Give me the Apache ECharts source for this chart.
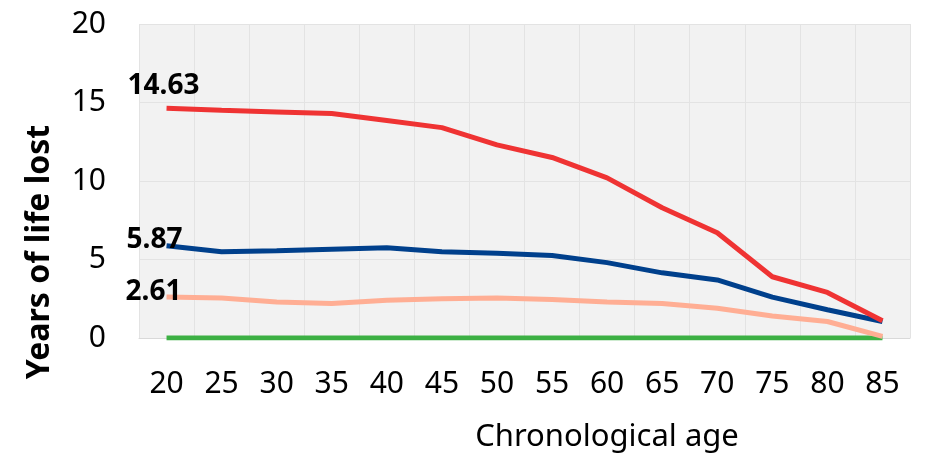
<!DOCTYPE html>
<html>
<head>
<meta charset="utf-8">
<script src="https://cdn.jsdelivr.net/npm/echarts@6/dist/echarts.min.js"></script>
<style>
  html, body { margin: 0; padding: 0; background: #fff; }
  #chart { width: 933px; height: 459px; }
</style>
</head>
<body>
<div id="chart"></div>
<script>
const ages = ['20', '25', '30', '35', '40', '45', '50', '55', '60', '65', '70', '75', '80', '85'];
const redValues = [14.63, 14.5, 14.4, 14.3, 13.85, 13.4, 12.3, 11.5, 10.2, 8.3, 6.7, 3.9, 2.9, 1.1];
const blueValues = [5.87, 5.5, 5.55, 5.65, 5.75, 5.5, 5.4, 5.25, 4.8, 4.15, 3.7, 2.6, 1.8, 1.05];
const salmonValues = [2.61, 2.55, 2.3, 2.2, 2.4, 2.5, 2.55, 2.45, 2.3, 2.2, 1.9, 1.4, 1.05, 0.1];
const greenValues = [0, 0, 0, 0, 0, 0, 0, 0, 0, 0, 0, 0, 0, 0];
const yTicks = [0, 5, 10, 15, 20];

const font = '"Noto Sans", "Open Sans", sans-serif';

// first point gets the bold value label
function withFirstLabel(values, offset) {
  return values.map((v, i) => i === 0 ? {
    value: v,
    label: {
      show: true,
      position: 'top',
      offset: offset,
      formatter: String(v),
      fontFamily: font,
      fontSize: 28,
      fontWeight: 'bold',
      color: '#000'
    }
  } : v);
}

function lineSeries(name, color, data) {
  return {
    name: name,
    type: 'line',
    data: data,
    symbol: 'circle',
    symbolSize: 0,
    showSymbol: true,
    lineStyle: { width: 5, color: color },
    itemStyle: { color: color },
    animation: false
  };
}

const chart = echarts.init(document.getElementById('chart'));
chart.setOption({
  backgroundColor: '#fff',
  grid: { left: 139, right: 23, top: 24, bottom: 121, show: true, backgroundColor: '#f2f2f2', borderWidth: 0 },
  xAxis: {
    type: 'category',
    data: ages,
    boundaryGap: true,
    axisLine: { show: true, lineStyle: { color: '#d9d9d9', width: 1 } },
    axisTick: { show: false },
    axisLabel: { fontFamily: font, fontSize: 30, color: '#000', margin: 31 },
    splitLine: { show: true, lineStyle: { color: '#e3e3e3', width: 1 } }
  },
  yAxis: {
    type: 'value',
    min: yTicks[0],
    max: yTicks[yTicks.length - 1],
    interval: 5,
    axisLine: { show: false },
    axisTick: { show: false },
    axisLabel: { fontFamily: font, fontSize: 30, color: '#000', margin: 33 },
    splitLine: { show: true, lineStyle: { color: '#e3e3e3', width: 1 } }
  },
  graphic: [
    {
      type: 'text',
      x: 40,
      y: 252,
      rotation: Math.PI / 2,
      style: {
        text: 'Years of life lost',
        font: 'bold 32px ' + font,
        fill: '#000',
        align: 'center',
        verticalAlign: 'middle'
      }
    },
    {
      type: 'text',
      x: 607,
      y: 437,
      style: {
        text: 'Chronological age',
        font: '31px ' + font,
        fill: '#000',
        align: 'center',
        verticalAlign: 'middle'
      }
    }
  ],
  series: [
    lineSeries('Green', '#3cb043', greenValues),
    lineSeries('Salmon', '#ffae94', withFirstLabel(salmonValues, [-13, 14])),
    lineSeries('Blue', '#00408c', withFirstLabel(blueValues, [-12, 13.5])),
    lineSeries('Red', '#ef3333', withFirstLabel(redValues, [-3, -3.5]))
  ]
});
</script>
</body>
</html>
